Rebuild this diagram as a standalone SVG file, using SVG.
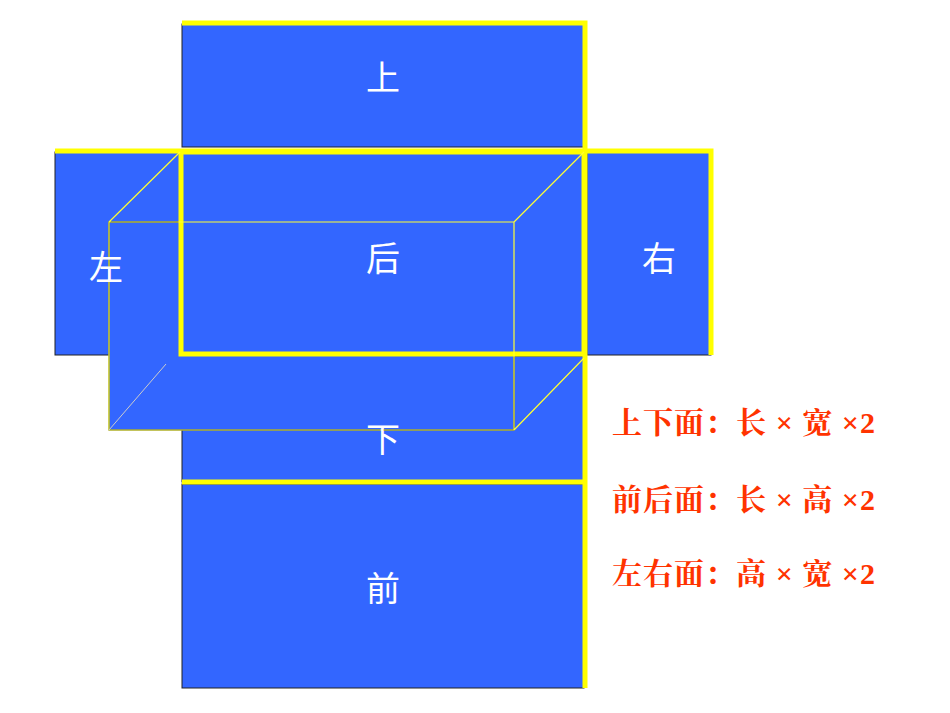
<svg xmlns="http://www.w3.org/2000/svg" width="950" height="713" viewBox="0 0 950 713">
<style>
.p{fill:#3366FF;stroke:#222;stroke-width:1}
.y{stroke:#FFFF00;stroke-width:5;fill:none}
.w{fill:#fff;font-family:"Noto Sans CJK SC",serif;font-size:34px;text-anchor:middle}
.r{fill:#FF3300;font-family:"Liberation Serif","Noto Serif CJK SC","Noto Sans CJK SC",serif;font-size:30px;font-weight:bold}
.t{stroke:#FFFF33;stroke-width:1.2;fill:none}
</style>
<rect width="950" height="713" fill="#fff"/>
<g id="top"><rect class="p" x="182" y="24" width="402" height="123"/><text class="w" x="383" y="90">上</text></g>
<g id="left"><rect class="p" x="55" y="152" width="127" height="203"/></g>
<g id="right"><rect class="p" x="587" y="152" width="124" height="203"/><text class="w" x="659" y="271">右</text></g>
<g id="bottom"><rect class="p" x="182" y="356" width="402" height="126"/></g>
<g id="frontpanel"><rect class="p" x="182" y="484" width="402" height="204"/><text class="w" x="383" y="601">前</text></g>
<g id="box"><rect x="109" y="222" width="405" height="208" fill="#3366FF" stroke="#111" stroke-width="1"/></g>
<g id="back"><rect class="p" x="182" y="152" width="402" height="202" fill="none"/><text class="w" x="383" y="271">后</text></g>
<g id="connectors">
<path class="y" d="M182 23H585V688"/>
<path class="y" d="M55 151H711V355"/>
<rect class="y" x="181" y="152" width="403" height="202"/>
<path class="y" d="M182 482H584"/>
<path class="t" d="M109 222H514V430H109Z M109 222L180 152 M514 222L584 152 M514 430L584 358"/>
<path d="M109 430L166 364" stroke="#ccc" stroke-width="1"/>
</g>
<text class="w" x="106" y="280">左</text>
<text class="w" x="383" y="452">下</text>
<text class="r" x="612" y="433" textLength="263" lengthAdjust="spacing">上下面：长 × 宽 ×2</text>
<text class="r" x="612" y="510" textLength="263" lengthAdjust="spacing">前后面：长 × 高 ×2</text>
<text class="r" x="612" y="584" textLength="263" lengthAdjust="spacing">左右面：高 × 宽 ×2</text>
</svg>
